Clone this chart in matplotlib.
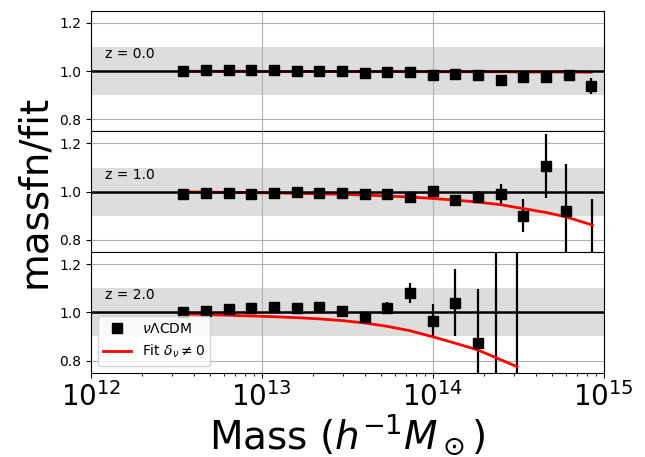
import numpy as np
import matplotlib
matplotlib.use('Agg')
import matplotlib.pyplot as plt

# mass bin centres (h^-1 Msun)
mass = [3.48e12, 4.73e12, 6.42e12, 8.7e12, 1.18e13, 1.60e13, 2.17e13, 2.95e13,
        4.0e13, 5.43e13, 7.37e13, 1.0e14, 1.36e14, 1.84e14, 2.50e14, 3.39e14,
        4.6e14, 6.24e14, 8.46e14]
mass_z1 = mass[:17] + [6.0e14, 8.6e14]
mass_z2 = mass[:14] + [2.35e14, 3.12e14]

# ratio massfn/fit and errors
ratio_z0 = [1.0, 1.005, 1.003, 1.004, 1.004, 1.002, 1.002, 0.999, 0.993, 0.995,
            0.996, 0.982, 0.987, 0.982, 0.964, 0.975, 0.976, 0.983, 0.938]
err_z0 = [0.003, 0.003, 0.003, 0.003, 0.003, 0.003, 0.004, 0.004, 0.005, 0.005,
          0.006, 0.007, 0.008, 0.009, 0.010, 0.011, 0.013, 0.022, 0.033]
ratio_z1 = [0.990, 0.996, 0.994, 0.990, 0.994, 0.999, 0.996, 0.996, 0.989, 0.990,
            0.977, 1.001, 0.965, 0.980, 0.990, 0.901, 1.106, 0.921, 0.62]
err_z1 = [0.004, 0.004, 0.004, 0.004, 0.005, 0.005, 0.005, 0.006, 0.007, 0.008,
          0.009, 0.011, 0.013, 0.022, 0.041, 0.068, 0.134, 0.195, 0.35]
ratio_z2 = [1.0, 1.004, 1.015, 1.019, 1.023, 1.019, 1.021, 1.004, 0.979, 1.018,
            1.080, 0.965, 1.040, 0.873, 0.60, 0.50]
err_z2 = [0.005, 0.005, 0.006, 0.006, 0.007, 0.008, 0.009, 0.010, 0.012, 0.025,
          0.043, 0.068, 0.140, 0.225, 1.0, 1.2]

# fit with delta_nu != 0, divided by the nu=0 fit
fit_z0 = [0.999, 0.999, 0.999, 0.999, 0.998, 0.998, 0.998, 0.998, 0.998, 0.998,
          0.998, 0.997, 0.997, 0.997, 0.997, 0.996, 0.996, 0.996, 0.995]
fit_z1 = [0.999, 0.998, 0.997, 0.996, 0.995, 0.993, 0.991, 0.989, 0.986, 0.982,
          0.978, 0.972, 0.965, 0.957, 0.946, 0.930, 0.914, 0.896, 0.862]
fit_z2 = [0.993, 0.991, 0.988, 0.985, 0.982, 0.978, 0.973, 0.966, 0.956, 0.942,
          0.924, 0.899, 0.872, 0.844, 0.812, 0.775]

panels = [('z = 0.0', mass, ratio_z0, err_z0, fit_z0),
          ('z = 1.0', mass_z1, ratio_z1, err_z1, fit_z1),
          ('z = 2.0', mass_z2, ratio_z2, err_z2, fit_z2)]

fig, axes = plt.subplots(3, 1, sharex=True, figsize=(6.45, 4.57), dpi=100)
fig.subplots_adjust(left=0.1406, right=0.9357, top=0.9766, bottom=0.1845, hspace=0)

for ax, (lab, m, r, e, f) in zip(axes, panels):
    ax.axhspan(0.9, 1.1, color='#dddddd', lw=0, zorder=0)
    ax.grid(True, which='major', color='#b0b0b0', lw=0.8)
    # errorbars, then fit, then the unity line on top
    ax.errorbar(m, r, yerr=e, fmt='none', ecolor='k', elinewidth=1.6, zorder=2)
    ax.plot(m, f, 'r-', lw=2, label=r'Fit $\delta_\nu \neq 0$', zorder=2)
    ax.axhline(1.0, color='k', lw=1.8, zorder=2)
    ax.plot(m, r, 'ks', ms=7, label=r'$\nu\Lambda$CDM', zorder=3)
    ax.text(0.028, 0.64, lab, transform=ax.transAxes, fontsize=10, va='center')
    ax.set_xscale('log')
    ax.set_xlim(1e12, 1e15)
    ax.set_ylim(0.75, 1.25)
    ax.set_yticks([0.8, 1.0, 1.2])

h, l = axes[2].get_legend_handles_labels()
axes[2].legend(h[::-1], l[::-1], loc='lower left', fontsize=10)
axes[1].set_ylabel('massfn/fit', fontsize=28)
axes[2].set_xlabel(r'Mass ($h^{-1}M_\odot$)', fontsize=28, labelpad=0)
axes[2].tick_params(axis='x', labelsize=20)

fig.savefig('out.png', dpi=100)
